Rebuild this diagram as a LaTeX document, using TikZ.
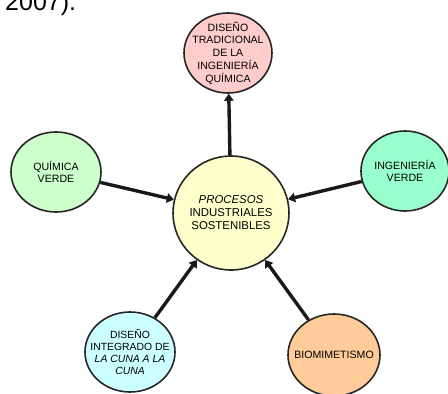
\documentclass[tikz,border=0pt]{standalone}
\usepackage{fontspec}
\setmainfont{Liberation Sans}
\usetikzlibrary{shapes.geometric}
\usetikzlibrary{arrows.meta}
\usepackage{xcolor}

\definecolor{rosa}{HTML}{FFCCCC}
\definecolor{verdeclaro}{HTML}{CCFFCC}
\definecolor{menta}{HTML}{99FFCC}
\definecolor{crema}{HTML}{FFFFCC}
\definecolor{celeste}{HTML}{CCFFFF}
\definecolor{durazno}{HTML}{FFCC99}

\tikzset{
  burbuja/.style={draw=black!85, ellipse, line width=1.6pt, inner sep=0pt,
    minimum width=88pt, minimum height=80pt},
  texto/.style={align=center, inner sep=0pt, font=\fontsize{10.6}{12.8}\selectfont},
  flecha/.style={-{Triangle[length=7pt,width=9.5pt]}, line width=3.4pt, black!90}
}

\begin{document}
\begin{tikzpicture}[x=1pt, y=-1pt]
            \clip (0,0) rectangle (448,394);
            % caption fragment
            \node[anchor=base west, inner sep=0pt, font=\fontsize{25}{30}\selectfont] (cita) at (5,10) {2007).};

            % Burbujas
            \node[burbuja, fill=crema, minimum width=116pt, minimum height=114pt] (centro) at (231,213) {};
            \node[burbuja, fill=rosa] (tradicional) at (228,53) {};
            \node[burbuja, fill=verdeclaro, minimum width=90pt] (quimica) at (56,172) {};
            \node[burbuja, fill=menta] (ingenieria) at (405,171) {};
            \node[burbuja, fill=celeste, minimum width=90pt] (cuna) at (130,352) {};
            \node[burbuja, fill=durazno, minimum width=92pt, minimum height=82pt] (bio) at (334,355) {};

            % Textos
            \node[texto, font=\fontsize{11.4}{13}\selectfont] (centro-t) at (centro) {\textit{PROCESOS}\\INDUSTRIALES\\SOSTENIBLES};
            \node[texto] (tradicional-t) at (tradicional) {DISEÑO\\TRADICIONAL\\DE LA\\INGENIERÍA\\QUÍMICA};
            \node[texto] (quimica-t) at (quimica) {QUÍMICA\\VERDE};
            \node[texto] (ingenieria-t) at (ingenieria) {INGENIERÍA\\VERDE};
            \node[texto, font=\fontsize{10.4}{11.8}\selectfont] (cuna-t) at (cuna) {DISEÑO\\INTEGRADO DE\\\textit{LA CUNA A LA}\\\textit{CUNA}};
            \node[texto] (bio-t) at (bio) {BIOMIMETISMO};

            % Flechas
            \draw[flecha] (centro) -- (tradicional);
            \draw[flecha] (quimica) -- (centro);
            \draw[flecha] (ingenieria) -- (centro);
            \draw[flecha] (cuna) -- (centro);
            \draw[flecha] (bio) -- (centro);
        \end{tikzpicture}
\end{document}
